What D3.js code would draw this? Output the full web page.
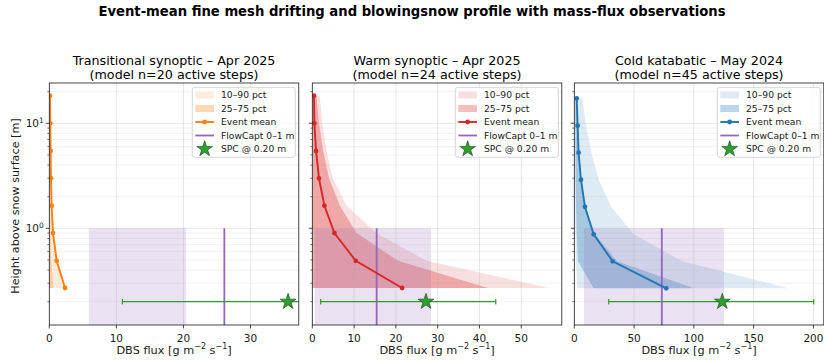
<!DOCTYPE html>
<html>
<head>
<meta charset="utf-8">
<script src="https://cdn.jsdelivr.net/npm/d3@7"></script>
<style>
  html, body { margin: 0; padding: 0; background: #fff; }
  svg { display: block; font-family: "DejaVu Sans", sans-serif; }
</style>
</head>
<body>
<svg id="chart" width="824" height="362"></svg>
<script>
// ---------------- DATA ----------------
const suptitle = "Event-mean fine mesh drifting and blowingsnow profile with mass-flux observations";
const panelTitles = ["Transitional synoptic – Apr 2025", "Warm synoptic – Apr 2025", "Cold katabatic – May 2024"];
const panelSubtitles = ["(model n=20 active steps)", "(model n=24 active steps)", "(model n=45 active steps)"];
const seriesColors = ["#ff7f0e", "#d62728", "#1f77b4"];

// heights (m), bottom to top
const heightsTrans = [0.27, 0.49, 0.90, 1.64, 2.99, 5.45, 10.0, 18.3];
const heightsWarm  = [0.27, 0.49, 0.90, 1.64, 2.99, 5.45, 10.0, 18.3];
const heightsCold  = [0.268, 0.485, 0.877, 1.60, 2.90, 5.25, 9.49, 17.3];

// event-mean DBS flux (g m-2 s-1)
const meanTrans = [2.35, 1.1, 0.55, 0.35, 0.25, 0.2, 0.15, 0.1];
const meanWarm  = [21.5, 10.4, 5.3, 2.9, 1.6, 0.9, 0.5, 0.4];
const meanCold  = [76.9, 32.1, 16.2, 8.9, 5.6, 3.6, 2.8, 2.0];

// percentiles
const p10Trans = [0.0, 0.0, 0.0, 0.0, 0.0, 0.0, 0.0, 0.0];
const p25Trans = [0.0, 0.0, 0.0, 0.0, 0.0, 0.0, 0.0, 0.0];
const p75Trans = [0.6, 0.3, 0.15, 0.1, 0.08, 0.06, 0.05, 0.04];
const p90Trans = [2.4, 1.35, 0.7, 0.45, 0.3, 0.25, 0.2, 0.15];

const p10Warm = [0.0, 0.0, 0.0, 0.0, 0.0, 0.0, 0.0, 0.0];
const p25Warm = [0.1, 0.1, 0.05, 0.05, 0.05, 0.05, 0.05, 0.05];
const p75Warm = [42.0, 20.5, 10.6, 6.6, 4.0, 2.6, 1.6, 1.0];
const p90Warm = [56.7, 27.3, 15.3, 8.2, 4.9, 3.4, 2.4, 1.8];

const p10Cold = [2.3, 1.5, 1.0, 0.8, 0.6, 0.5, 0.5, 0.6];
const p25Cold = [16.2, 3.1, 2.0, 1.5, 1.2, 1.0, 0.9, 0.8];
const p75Cold = [100.0, 35.8, 17.1, 9.5, 6.0, 3.9, 3.0, 2.4];
const p90Cold = [179.6, 90.3, 49.8, 31.0, 20.4, 14.3, 9.8, 6.5];

// observations
const flowcaptTop  = [1.0, 1.0, 1.0];          // FlowCapt layer 0–1 m
const flowcaptMean = [26.1, 15.4, 73.2];
const flowcaptLo   = [5.9, 0.6, 8.1];
const flowcaptHi   = [20.4, 28.4, 125.2];
const spcHeight    = [0.20, 0.20, 0.20];
const spcValue     = [35.6, 27.2, 123.8];
const spcLo        = [10.9, 2.0, 28.8];
const spcHi        = [60.0, 43.9, 200.3];

// axes
const xMax   = [37.2, 59.7, 208.7];
const xTicks = [[0, 10, 20, 30], [0, 10, 20, 30, 40, 50], [0, 50, 100, 150, 200]];
const yDomain = [0.12, 24.2];
const yMajorTicks = [1, 10];
const yMajorLabels = ["10", "10"];
const yMajorExps = ["0", "1"];
const legendLabels = ["10–90 pct", "25–75 pct", "Event mean", "FlowCapt 0–1 m", "SPC @ 0.20 m"];
const xLabelParts = [["DBS flux [g m", false], ["−2", true], [" s", false], ["−1", true], ["]", false]];
const yLabel = "Height above snow surface [m]";

const panels = [
  {h: heightsTrans, mean: meanTrans, p10: p10Trans, p25: p25Trans, p75: p75Trans, p90: p90Trans},
  {h: heightsWarm,  mean: meanWarm,  p10: p10Warm,  p25: p25Warm,  p75: p75Warm,  p90: p90Warm},
  {h: heightsCold,  mean: meanCold,  p10: p10Cold,  p25: p25Cold,  p75: p75Cold,  p90: p90Cold}
];

// ---------------- LAYOUT ----------------
const svg = d3.select("#chart");
const axLefts = [49.3, 312.3, 574.3];
const axW = 249.5;
const axTop = 83, axBottom = 325;
const purple = "#9467bd", green = "#2ca02c";
const ink = "#1a1a1a";

svg.append("text")
  .attr("x", 412).attr("y", 15.5)
  .attr("text-anchor", "middle")
  .attr("font-size", 13.2).attr("font-weight", "bold").attr("fill", "#000")
  .text(suptitle);

const y = d3.scaleLog().domain(yDomain).range([axBottom, axTop]);

// minor ticks for log axis
const yMinor = [];
[0.1, 1, 10].forEach(dec => {
  for (let k = 2; k <= 9; k++) {
    const v = dec * k;
    if (v >= yDomain[0] && v <= yDomain[1]) yMinor.push(v);
  }
});

panels.forEach((p, i) => {
  const x0 = axLefts[i];
  const x = d3.scaleLinear().domain([0, xMax[i]]).range([x0, x0 + axW]);
  const col = seriesColors[i];
  const g = svg.append("g");

  const clipId = "clip" + i;
  svg.append("defs").append("clipPath").attr("id", clipId)
    .append("rect").attr("x", x0).attr("y", axTop).attr("width", axW).attr("height", axBottom - axTop);
  const plot = g.append("g").attr("clip-path", `url(#${clipId})`);

  const idx = d3.range(p.h.length);
  const band = (lo, hi) => d3.area()
    .y(j => y(p.h[j])).x0(j => x(lo[j])).x1(j => x(hi[j]))(idx);

  plot.append("path").attr("d", band(p.p10, p.p90)).attr("fill", col).attr("fill-opacity", 0.15);
  plot.append("path").attr("d", band(p.p25, p.p75)).attr("fill", col).attr("fill-opacity", 0.3);

  // FlowCapt box
  plot.append("rect")
    .attr("x", x(flowcaptLo[i])).attr("width", x(flowcaptHi[i]) - x(flowcaptLo[i]))
    .attr("y", y(flowcaptTop[i])).attr("height", axBottom + 5 - y(flowcaptTop[i]))
    .attr("fill", purple).attr("fill-opacity", 0.2);

  // grid
  const grid = plot.append("g");
  xTicks[i].forEach(t => grid.append("line")
    .attr("x1", x(t)).attr("x2", x(t)).attr("y1", axTop).attr("y2", axBottom)
    .attr("stroke", "#b0b0b0").attr("stroke-opacity", 0.4).attr("stroke-width", 0.8));
  yMajorTicks.forEach(t => grid.append("line")
    .attr("x1", x0).attr("x2", x0 + axW).attr("y1", y(t)).attr("y2", y(t))
    .attr("stroke", "#b0b0b0").attr("stroke-opacity", 0.4).attr("stroke-width", 0.8));
  yMinor.forEach(t => grid.append("line")
    .attr("x1", x0).attr("x2", x0 + axW).attr("y1", y(t)).attr("y2", y(t))
    .attr("stroke", "#b0b0b0").attr("stroke-opacity", 0.28).attr("stroke-width", 0.6));

  // FlowCapt mean line
  plot.append("line")
    .attr("x1", x(flowcaptMean[i])).attr("x2", x(flowcaptMean[i]))
    .attr("y1", y(flowcaptTop[i])).attr("y2", axBottom + 5)
    .attr("stroke", purple).attr("stroke-width", 1.8);

  // SPC errorbar
  const ys = y(spcHeight[i]);
  plot.append("line").attr("x1", x(spcLo[i])).attr("x2", x(spcHi[i])).attr("y1", ys).attr("y2", ys)
    .attr("stroke", green).attr("stroke-width", 1.2);
  [spcLo[i], spcHi[i]].forEach(v => plot.append("line")
    .attr("x1", x(v)).attr("x2", x(v)).attr("y1", ys - 2.7).attr("y2", ys + 2.7)
    .attr("stroke", green).attr("stroke-width", 1.2));

  // mean profile
  plot.append("path")
    .attr("d", d3.line().x(j => x(p.mean[j])).y(j => y(p.h[j]))(idx))
    .attr("fill", "none").attr("stroke", col).attr("stroke-width", 1.9);
  idx.forEach(j => plot.append("circle")
    .attr("cx", x(p.mean[j])).attr("cy", y(p.h[j])).attr("r", 2.4).attr("fill", col));

  // SPC star
  const star = d3.symbol().type(d3.symbolStar).size(78);
  plot.append("path").attr("d", star())
    .attr("transform", `translate(${x(spcValue[i])},${ys})`)
    .attr("fill", green).attr("stroke", "#1a3a1a").attr("stroke-width", 0.6);

  // spines
  g.append("rect").attr("x", x0).attr("y", axTop).attr("width", axW).attr("height", axBottom - axTop)
    .attr("fill", "none").attr("stroke", ink).attr("stroke-width", 0.8);

  // x ticks
  xTicks[i].forEach(t => {
    g.append("line").attr("x1", x(t)).attr("x2", x(t)).attr("y1", axBottom).attr("y2", axBottom + 3.5)
      .attr("stroke", ink).attr("stroke-width", 0.8);
    g.append("text").attr("x", x(t)).attr("y", axBottom + 16.5)
      .attr("text-anchor", "middle").attr("font-size", 10.5).attr("fill", ink).text(t);
  });
  const xl = g.append("text").attr("x", x0 + axW / 2).attr("y", 353.5)
    .attr("text-anchor", "middle").attr("font-size", 11.3).attr("fill", ink);
  let shifted = false;
  xLabelParts.forEach(([txt, sup]) => {
    const ts = xl.append("tspan").text(txt);
    if (sup && !shifted) { ts.attr("dy", -4.5).attr("font-size", 8); shifted = true; }
    else if (!sup && shifted) { ts.attr("dy", 4.5); shifted = false; }
  });

  // y ticks
  yMajorTicks.forEach((t, k) => {
    g.append("line").attr("x1", x0 - 3.5).attr("x2", x0).attr("y1", y(t)).attr("y2", y(t))
      .attr("stroke", ink).attr("stroke-width", 0.8);
    if (i === 0) {
      const tx = g.append("text").attr("x", x0 - 5.5).attr("y", y(t) + 4)
        .attr("text-anchor", "end").attr("font-size", 10.5).attr("fill", ink);
      tx.append("tspan").text(yMajorLabels[k]);
      tx.append("tspan").attr("dy", -4.5).attr("font-size", 7.5).text(yMajorExps[k]);
    }
  });
  yMinor.forEach(t => g.append("line").attr("x1", x0 - 2).attr("x2", x0).attr("y1", y(t)).attr("y2", y(t))
    .attr("stroke", ink).attr("stroke-width", 0.6));

  // titles
  g.append("text").attr("x", x0 + axW / 2).attr("y", 64.5).attr("text-anchor", "middle")
    .attr("font-size", 12.7).attr("fill", "#000").text(panelTitles[i]);
  g.append("text").attr("x", x0 + axW / 2).attr("y", 78.5).attr("text-anchor", "middle")
    .attr("font-size", 12.7).attr("fill", "#000").text(panelSubtitles[i]);

  // legend
  const lw = 103, lh = 70;
  const lx = x0 + axW - 3.5 - lw, ly = axTop + 4.3;
  const lg = g.append("g");
  lg.append("rect").attr("x", lx).attr("y", ly).attr("width", lw).attr("height", lh).attr("rx", 2.5)
    .attr("fill", "#fff").attr("fill-opacity", 0.8).attr("stroke", "#ccc").attr("stroke-width", 0.8);
  const rowY = k => ly + 7.7 + k * 13.5;
  const sx0 = lx + 3, sx1 = lx + 21.7, tx0 = lx + 28.7;
  lg.append("rect").attr("x", sx0).attr("y", rowY(0) - 3.5).attr("width", sx1 - sx0).attr("height", 7)
    .attr("fill", col).attr("fill-opacity", 0.15);
  lg.append("rect").attr("x", sx0).attr("y", rowY(1) - 3.5).attr("width", sx1 - sx0).attr("height", 7)
    .attr("fill", col).attr("fill-opacity", 0.3);
  lg.append("line").attr("x1", sx0).attr("x2", sx1).attr("y1", rowY(2)).attr("y2", rowY(2))
    .attr("stroke", col).attr("stroke-width", 1.9);
  lg.append("circle").attr("cx", (sx0 + sx1) / 2).attr("cy", rowY(2)).attr("r", 2.4).attr("fill", col);
  lg.append("line").attr("x1", sx0).attr("x2", sx1).attr("y1", rowY(3)).attr("y2", rowY(3))
    .attr("stroke", purple).attr("stroke-width", 1.8);
  lg.append("path").attr("d", star())
    .attr("transform", `translate(${(sx0 + sx1) / 2},${rowY(4)})`)
    .attr("fill", green).attr("stroke", "#1a3a1a").attr("stroke-width", 0.6);
  legendLabels.forEach((lab, k) => lg.append("text")
    .attr("x", tx0).attr("y", rowY(k) + 3.3).attr("font-size", 9.2).attr("fill", ink).text(lab));
});

// y label
svg.append("text")
  .attr("transform", `translate(19,206) rotate(-90)`)
  .attr("text-anchor", "middle").attr("font-size", 11.2).attr("fill", ink)
  .text(yLabel);
</script>
</body>
</html>
